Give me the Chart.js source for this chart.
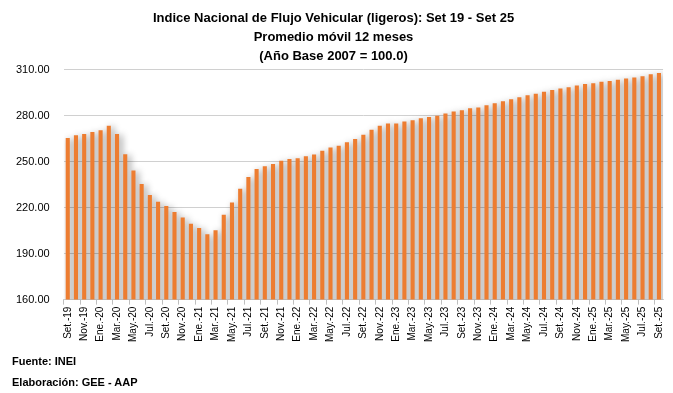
<!DOCTYPE html>
<html>
<head>
<meta charset="utf-8">
<script src="https://cdn.jsdelivr.net/npm/chart.js@4"></script>
<style>
  html, body { margin: 0; padding: 0; background: #fff; }
  #wrap { position: relative; width: 673px; height: 393px; }
  canvas { display: block; }
  .note {
    position: absolute; left: 12px;
    font: bold 11px 'Liberation Sans', sans-serif;
    color: #000;
  }
</style>
</head>
<body>
<div id="wrap">
  <canvas id="chart" width="673" height="393"></canvas>
  <div class="note" style="top:355px">Fuente: INEI</div>
  <div class="note" style="top:376px">Elaboración: GEE - AAP</div>
</div>
<script>
const titleLines = [
  'Indice Nacional de Flujo Vehicular (ligeros): Set 19 - Set 25',
  'Promedio móvil 12 meses',
  '(Año Base 2007 = 100.0)',
]

const monthNames = ['Ene', 'Feb', 'Mar', 'Abr', 'May', 'Jun', 'Jul', 'Ago', 'Set', 'Oct', 'Nov', 'Dic']
const years = ['19', '20', '21', '22', '23', '24', '25']

// Set.-19 ... Set.-25
const months = []
for (let y = 0; y < years.length; y++) {
  for (let m = 0; m < 12; m++) {
    if ((y === 0 && m < 8) || (y === years.length - 1 && m > 8)) continue
    months.push(monthNames[m] + '.-' + years[y])
  }
}

const values = [
  265.4, 267.1, 268.0, 269.3, 270.4, 273.4, 268.0, 254.8, 244.2, 235.3,
  228.2, 223.8, 221.0, 217.1, 213.6, 209.5, 206.7, 202.6, 205.2, 215.4,
  223.4, 232.3, 239.9, 245.1, 247.0, 248.5, 250.5, 251.6, 252.2, 253.5,
  254.6, 257.0, 259.1, 260.4, 262.6, 264.7, 267.5, 270.8, 273.4, 274.9,
  274.9, 276.2, 276.9, 278.3, 279.0, 279.9, 281.4, 282.7, 283.4, 284.7,
  285.3, 286.8, 288.1, 289.4, 290.7, 292.0, 293.3, 294.2, 295.5, 296.6,
  297.7, 298.5, 299.6, 300.5, 301.1, 302.0, 302.6, 303.3, 304.1, 304.8,
  305.6, 306.9, 307.8,
]

const yTicks = { min: 160, max: 310, step: 30 }

// soft grey shadow behind the bars, like the spreadsheet original
const barShadow = {
  id: 'barShadow',
  beforeDatasetsDraw(chart) {
    const ctx = chart.ctx
    ctx.save()
    ctx.shadowColor = 'rgba(0,0,0,0.42)'
    ctx.shadowBlur = 7
    ctx.shadowOffsetX = 3
    ctx.shadowOffsetY = 1
  },
  afterDatasetsDraw(chart) {
    chart.ctx.restore()
  },
}

const font = "'Liberation Sans', sans-serif"

new Chart(document.getElementById('chart'), {
  type: 'bar',
  data: {
    labels: months,
    datasets: [
      {
        label: 'Indice',
        data: values,
        backgroundColor: '#ED7D31',
        borderWidth: 0,
        categoryPercentage: 1,
        barPercentage: 0.5,
      },
    ],
  },
  options: {
    responsive: false,
    animation: false,
    layout: { padding: { left: 2, right: 8, top: 2, bottom: 49 } },
    plugins: {
      legend: false,
      tooltip: false,
      title: {
        display: true,
        text: titleLines,
        color: '#000',
        font: { family: font, size: 13, weight: 'bold', lineHeight: 1.45 },
        padding: { top: 7, bottom: 4 },
      },
    },
    scales: {
      x: {
        grid: {
          drawOnChartArea: false,
          tickLength: 5,
          color: (c) => (c.index % 2 === 0 ? '#bfbfbf' : 'transparent'),
        },
        border: { color: '#d0d0d0' },
        ticks: {
          autoSkip: false,
          maxRotation: 90,
          minRotation: 90,
          color: '#000',
          font: { family: font, size: 10 },
          padding: 2,
          callback: (v, i) => (i % 2 === 0 ? months[i] : ''),
        },
      },
      y: {
        min: yTicks.min,
        max: yTicks.max,
        grid: { color: '#d0d0d0', drawTicks: false },
        border: { display: false },
        ticks: {
          stepSize: yTicks.step,
          color: '#000',
          padding: 14,
          font: { family: font, size: 11 },
          callback: (v) => v.toFixed(2),
        },
      },
    },
  },
  plugins: [barShadow],
})
</script>
</body>
</html>
